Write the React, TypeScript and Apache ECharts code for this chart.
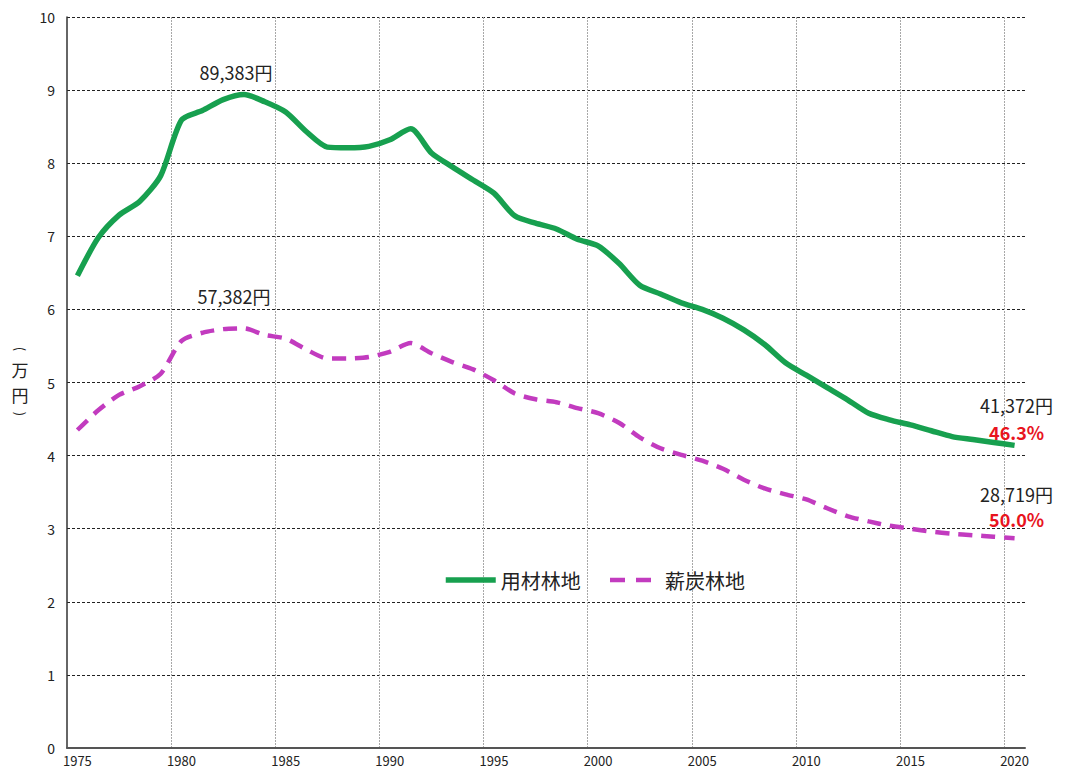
import React, { useEffect, useRef } from "react";
import * as echarts from "echarts";

const years = [
  "1975", "1976", "1977", "1978", "1979", "1980", "1981", "1982", "1983", "1984",
  "1985", "1986", "1987", "1988", "1989", "1990", "1991", "1992", "1993", "1994",
  "1995", "1996", "1997", "1998", "1999", "2000", "2001", "2002", "2003", "2004",
  "2005", "2006", "2007", "2008", "2009", "2010", "2011", "2012", "2013", "2014",
  "2015", "2016", "2017", "2018", "2019", "2020",
];

// 用材林地 (万円)
const timberLand = [
  6.46, 6.98, 7.29, 7.48, 7.83, 8.59, 8.72, 8.87, 8.94, 8.84,
  8.70, 8.43, 8.22, 8.21, 8.23, 8.32, 8.47, 8.14, 7.95, 7.77,
  7.59, 7.28, 7.18, 7.10, 6.96, 6.87, 6.63, 6.33, 6.21, 6.09,
  6.00, 5.88, 5.72, 5.52, 5.27, 5.10, 4.93, 4.76, 4.58, 4.49,
  4.42, 4.34, 4.26, 4.22, 4.18, 4.14,
];

// 薪炭林地 (万円)
const fuelwoodLand = [
  4.35, 4.62, 4.83, 4.95, 5.12, 5.57, 5.68, 5.73, 5.74, 5.65,
  5.60, 5.45, 5.33, 5.33, 5.35, 5.42, 5.54, 5.40, 5.28, 5.18,
  5.03, 4.85, 4.77, 4.73, 4.65, 4.58, 4.45, 4.25, 4.10, 4.01,
  3.93, 3.82, 3.67, 3.55, 3.47, 3.40, 3.28, 3.17, 3.10, 3.04,
  3.00, 2.96, 2.93, 2.91, 2.89, 2.87,
];

const seriesNames = ["用材林地", "薪炭林地"];
const peakYear = "1983";
const lastYear = "2020";
const peakLabels = ["89,383円", "57,382円"];
const endLabels = ["41,372円", "28,719円"];
const endPercents = ["46.3%", "50.0%"];
const yAxisUnit = ["(", "万", "円", ")"];

const FONT = '"Noto Sans CJK JP", "Noto Sans", sans-serif';
const GREEN = "#17a04f";
const PINK = "#c23bbf";
const RED = "#e8141e";
const TEXT = "#222222";

export default function App() {
  const ref = useRef<HTMLDivElement>(null);

  useEffect(() => {
    if (!ref.current) return;
    const chart = echarts.init(ref.current, undefined, { renderer: "svg" });

    const peakIdx = years.indexOf(peakYear);
    const lastIdx = years.indexOf(lastYear);

    const makeEndLabel = (i: number, dy: number, lh: number) => ({
      coord: [lastYear, [timberLand, fuelwoodLand][i][lastIdx]],
      symbol: "circle",
      symbolSize: 0,
      label: {
        show: true,
        position: "inside",
        offset: [2, dy],
        formatter: `{a|${endLabels[i]}}\n{b|${endPercents[i]}}`,
        rich: {
          a: { fontFamily: FONT, fontSize: 18, color: TEXT, lineHeight: lh, align: "center" },
          b: { fontFamily: FONT, fontSize: 18, fontWeight: "bold", color: RED, lineHeight: lh, align: "center" },
        },
      },
    });

    // y-axis unit label, stacked vertically (parentheses turned sideways)
    const unitY = [349, 369, 394, 414];
    const unitGraphics = yAxisUnit.map((ch, i) => {
      const isParen = i === 0 || i === yAxisUnit.length - 1;
      return {
        type: "text",
        x: 20,
        y: unitY[i],
        rotation: isParen ? -Math.PI / 2 : 0,
        style: {
          text: ch,
          fontFamily: FONT,
          fontSize: isParen ? 13 : 17,
          fill: TEXT,
          align: "center",
          verticalAlign: "middle",
        },
      };
    });

    chart.setOption({
      animation: false,
      backgroundColor: "#ffffff",
      grid: { left: 67, right: 40, top: 17, bottom: 23, containLabel: false },
      legend: {
        left: 438,
        top: 565,
        itemWidth: 50,
        itemHeight: 20,
        itemGap: 27,
        itemStyle: { opacity: 0 },
        textStyle: { fontFamily: FONT, fontSize: 20, color: TEXT },
        data: [
          { name: seriesNames[0], lineStyle: { width: 5.5 } },
          { name: seriesNames[1], lineStyle: { width: 4.5, type: [15, 11] } },
        ],
      },
      graphic: unitGraphics,
      xAxis: {
        type: "category",
        data: years,
        boundaryGap: true,
        axisLine: { show: true, lineStyle: { color: "#555555", width: 2 } },
        axisTick: { show: false },
        axisLabel: {
          interval: 4,
          fontFamily: FONT,
          fontSize: 13,
          color: TEXT,
          margin: 6,
        },
        splitLine: {
          show: true,
          interval: 4,
          showMinLine: false,
          showMaxLine: false,
          lineStyle: { color: "#a8a8a8", width: 1, type: [2, 1] },
        },
      },
      yAxis: {
        type: "value",
        min: 0,
        max: 10,
        interval: 1,
        axisLine: { show: true, lineStyle: { color: "#333333", width: 1.5 } },
        axisTick: { show: false },
        axisLabel: { fontFamily: FONT, fontSize: 14, color: TEXT, margin: 12 },
        splitLine: {
          show: true,
          lineStyle: { color: "#222222", width: 1, type: [3, 2] },
        },
      },
      series: [
        {
          name: seriesNames[0],
          type: "line",
          data: timberLand,
          symbol: "none",
          smooth: 0.25,
          lineStyle: { color: GREEN, width: 5.5 },
          itemStyle: { color: GREEN },
          z: 3,
          markPoint: {
            silent: true,
            data: [
              {
                coord: [peakYear, timberLand[peakIdx]],
                symbol: "circle",
                symbolSize: 0,
                label: {
                  show: true,
                  position: "inside",
                  offset: [-8, -22],
                  formatter: peakLabels[0],
                  fontFamily: FONT,
                  fontSize: 18,
                  color: TEXT,
                },
              },
              makeEndLabel(0, -27, 27),
            ],
          },
        },
        {
          name: seriesNames[1],
          type: "line",
          data: fuelwoodLand,
          symbol: "none",
          smooth: 0.25,
          lineStyle: { color: PINK, width: 4.5, type: [14, 9] },
          itemStyle: { color: PINK },
          z: 2,
          markPoint: {
            silent: true,
            data: [
              {
                coord: [peakYear, fuelwoodLand[peakIdx]],
                symbol: "circle",
                symbolSize: 0,
                label: {
                  show: true,
                  position: "inside",
                  offset: [-10, -32],
                  formatter: peakLabels[1],
                  fontFamily: FONT,
                  fontSize: 18,
                  color: TEXT,
                },
              },
              makeEndLabel(1, -32, 25),
            ],
          },
        },
      ],
    });

    return () => {
      chart.dispose();
    };
  }, []);

  return (
    <div
      ref={ref}
      style={{ position: "fixed", left: 0, top: 0, width: 1065, height: 771, background: "#fff" }}
    />
  );
}
